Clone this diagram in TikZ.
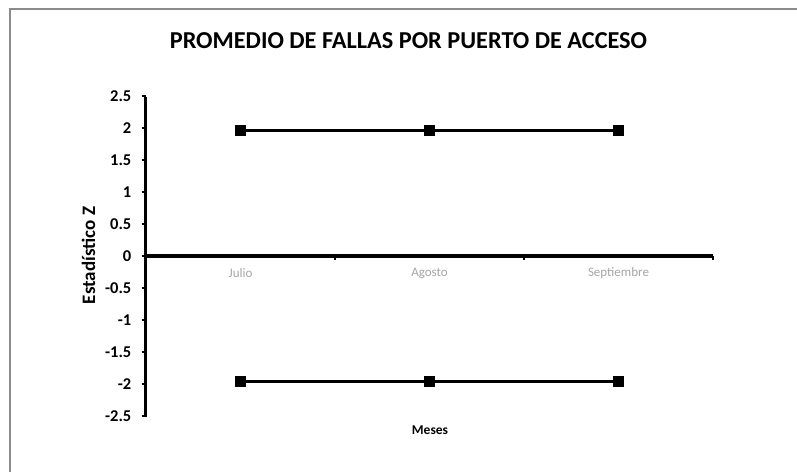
\documentclass[tikz,border=0pt]{standalone}
\usepackage{fontspec}
\setmainfont{Carlito}
\begin{document}
\begin{tikzpicture}[x=1pt,y=-1pt,
  frameline/.style={draw=black!45,line width=2pt},
  axisline/.style={draw=black,line width=3.2pt},
  tickmark/.style={draw=black,line width=2.5pt},
  dataline/.style={draw=black,line width=3.2pt},
  marker/.style={fill=black,minimum size=11pt,inner sep=0pt,outer sep=0pt},
  ticklabel/.style={anchor=east,font=\fontsize{16.5}{16.5}\selectfont\bfseries,inner sep=0pt},
  catlabel/.style={font=\fontsize{13}{13}\selectfont,text=black!35,inner sep=0pt},
  titlelabel/.style={font=\fontsize{24.3}{25}\selectfont\bfseries,inner sep=0pt},
  axtitle/.style={font=\fontsize{13.5}{13.5}\selectfont\bfseries,inner sep=0pt}]
\useasboundingbox (0,0) rectangle (797,471);
\fill[white] (0,0) rectangle (797,471);
% frame
\draw[frameline] (10,475) -- (10,9) -- (800,9);
% title
\node[titlelabel] (title) at (408.5,41) {PROMEDIO DE FALLAS POR PUERTO DE ACCESO};
% axes
\coordinate (ytop) at (145.5,96.5);
\coordinate (ybot) at (145.5,416.5);
\coordinate (xl) at (145.5,256);
\coordinate (xr) at (713,256);
\draw[axisline] (ytop) -- (ybot);
\draw[axisline] (xl) -- (xr);
% y ticks and labels
\foreach \v/\t [count=\i] in {2.5/2.5,2/2,1.5/1.5,1/1,0.5/0.5,0/0,-0.5/-0.5,-1/-1,-1.5/-1.5,-2/-2,-2.5/-2.5}{
  \draw[tickmark] (141.5,256-64*\v) -- (145.5,256-64*\v);
  \node[ticklabel] (yl\i) at (131.5,256-64*\v) {\t};
}
% x ticks
\foreach \x in {335,524,713}{
  \draw[tickmark] (\x,256) -- (\x,260);
}
% category labels
\node[catlabel] (julio) at (240.5,273.5) {Julio};
\node[catlabel] (agosto) at (429.5,273.5) {Agosto};
\node[catlabel] (sept) at (618.5,273.5) {Septiembre};
% axis titles
\node[axtitle,font=\fontsize{19}{19}\selectfont\bfseries,rotate=90] (ytitle) at (88.5,255.5) {Estadístico Z};
\node[axtitle] (meses) at (430,430) {Meses};
% data
\node[marker] (u1) at (240.5,130.5) {};
\node[marker] (u2) at (429.5,130.5) {};
\node[marker] (u3) at (618.5,130.5) {};
\node[marker] (l1) at (240.5,381.5) {};
\node[marker] (l2) at (429.5,381.5) {};
\node[marker] (l3) at (618.5,381.5) {};
\draw[dataline] (u1) -- (u2) -- (u3);
\draw[dataline] (l1) -- (l2) -- (l3);
\end{tikzpicture}
\end{document}
